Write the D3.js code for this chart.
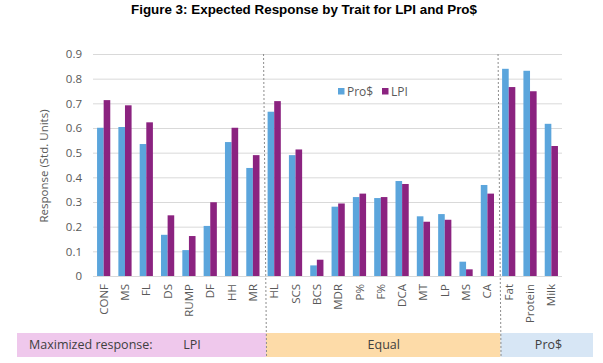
<!DOCTYPE html>
<html>
<head>
<meta charset="utf-8">
<script src="https://cdn.jsdelivr.net/npm/d3@7"></script>
<style>
  body { margin: 0; background: #fff; }
  text { font-family: 'Open Sans', 'Noto Sans', sans-serif; }
</style>
</head>
<body>
<div id="chart"></div>
<script>
'use strict';

var w = 603;
var h = 363;

// categories, in drawing order
var traits = [ 'CONF', 'MS', 'FL', 'DS', 'RUMP', 'DF', 'HH', 'MR',
	'HL', 'SCS', 'BCS', 'MDR', 'P%', 'F%', 'DCA', 'MT', 'LP', 'MS', 'CA',
	'Fat', 'Protein', 'Milk' ];

// series values
var pros = [ 0.601, 0.604, 0.535, 0.167, 0.105, 0.203, 0.543, 0.438,
	0.666, 0.490, 0.043, 0.281, 0.320, 0.316, 0.385, 0.242, 0.251, 0.058, 0.369,
	0.840, 0.832, 0.617 ];
var lpi = [ 0.713, 0.692, 0.623, 0.246, 0.162, 0.299, 0.601, 0.490,
	0.709, 0.513, 0.066, 0.294, 0.334, 0.320, 0.373, 0.220, 0.228, 0.027, 0.334,
	0.766, 0.749, 0.527 ];

var seriesNames = [ 'Pro$', 'LPI' ];
var yTicks = [ 0, 0.1, 0.2, 0.3, 0.4, 0.5, 0.6, 0.7, 0.8, 0.9 ];

// groups shown in the band under the chart
var groupNames = [ 'LPI', 'Equal', 'Pro$' ];
var groupSizes = [ 8, 11, 3 ];

var colours = { 'Pro$': '#5ba5dc', 'LPI': '#8b2380' };
var bandFills = [ '#efc8ec', '#fddba8', '#d7e6f5' ];

var svg = d3.select('#chart')
	.append('svg')
	.attr('width', w)
	.attr('height', h);

svg.append('rect')
	.attr('width', w)
	.attr('height', h)
	.attr('fill', '#fff');

// title
svg.append('text')
	.attr('x', 304)
	.attr('y', 14)
	.attr('text-anchor', 'middle')
	.style('font-family', "'Liberation Sans', Arial, sans-serif")
	.style('font-weight', 'bold')
	.style('font-size', '13.4px')
	.attr('fill', '#000')
	.text('Figure 3: Expected Response by Trait for LPI and Pro$');

var x = d3.scaleBand()
	.domain(d3.range(traits.length))
	.range([ 93, 562 ])
	.paddingInner(0.38)
	.paddingOuter(0.19);

var xs = d3.scaleBand()
	.domain(seriesNames)
	.range([ 0, x.bandwidth() ]);

var y = d3.scaleLinear()
	.domain([ 0, 0.9 ])
	.range([ 276, 54 ]);

// gridlines + y labels
var yAxis = d3.axisLeft(y)
	.tickValues(yTicks)
	.tickSize(-(562 - 93))
	.tickPadding(11)
	.tickFormat(function(d) { return d === 0 ? '0' : d3.format('.1f')(d); });

var gy = svg.append('g')
	.attr('transform', 'translate(93,0)')
	.call(yAxis);
gy.select('.domain').remove();
gy.selectAll('.tick line').attr('stroke', '#d9d9d9');
gy.selectAll('.tick text')
	.attr('fill', '#595959')
	.style('font-size', '11.5px');

svg.append('text')
	.attr('transform', 'translate(44,166) rotate(-90)')
	.attr('text-anchor', 'middle')
	.attr('dy', '0.35em')
	.attr('fill', '#595959')
	.style('font-size', '11.5px')
	.text('Response (Std. Units)');

// bars
var rows = traits.map(function(t, i) {
	return { i: i, vals: [ pros[i], lpi[i] ] };
});

var groups = svg.append('g')
	.selectAll('g')
	.data(rows)
	.enter()
	.append('g')
	.attr('transform', function(d) { return 'translate(' + x(d.i) + ',0)'; });

groups.selectAll('rect')
	.data(function(d) {
		return seriesNames.map(function(s, k) { return { s: s, v: d.vals[k] }; });
	})
	.enter()
	.append('rect')
	.attr('x', function(d) { return xs(d.s); })
	.attr('width', xs.bandwidth())
	.attr('y', function(d) { return y(d.v); })
	.attr('height', function(d) { return y(0) - y(d.v); })
	.attr('fill', function(d) { return colours[d.s]; });

// x axis
var xAxis = d3.axisBottom(x)
	.tickSize(0)
	.tickFormat(function(i) { return traits[i]; });

var gx = svg.append('g')
	.attr('transform', 'translate(0,276)')
	.call(xAxis);
gx.select('.domain')
	.attr('d', 'M93,0.5H562')
	.attr('stroke', '#d9d9d9');
gx.selectAll('.tick text')
	.attr('transform', 'rotate(-90)')
	.attr('text-anchor', 'end')
	.attr('x', -8)
	.attr('y', 0)
	.attr('dy', '0.35em')
	.attr('fill', '#595959')
	.style('font-size', '11.5px');

// group band at the bottom
var starts = [ 0 ];
groupSizes.forEach(function(n, k) { starts.push(starts[k] + n); });

var edge = function(k) {
	if (k === 0) { return 17; }
	if (k === groupSizes.length) { return 593; }
	return x.step() * starts[k] + x.range()[0];
};

var bands = svg.append('g')
	.selectAll('g')
	.data(groupNames)
	.enter()
	.append('g');

bands.append('rect')
	.attr('x', function(d, k) { return edge(k) + (k ? 2.5 : 0); })
	.attr('y', 333)
	.attr('width', function(d, k) {
		return edge(k + 1) + (k + 1 < groupNames.length ? 2.5 : 0) - edge(k) - (k ? 2.5 : 0);
	})
	.attr('height', 24)
	.attr('fill', function(d, k) { return bandFills[k]; });

bands.append('text')
	.attr('x', function(d, k) {
		if (k === 0) { return 192; }
		return (edge(k) + edge(k + 1)) / 2 + 3;
	})
	.attr('y', 345)
	.attr('dy', '0.35em')
	.attr('text-anchor', 'middle')
	.attr('fill', '#404040')
	.style('font-size', '12.5px')
	.text(function(d) { return d; });

svg.append('text')
	.attr('x', 29)
	.attr('y', 345)
	.attr('dy', '0.35em')
	.attr('fill', '#404040')
	.style('font-size', '12.5px')
	.text('Maximized response:');

// dotted dividers (slightly slanted, as drawn)
[ 1, 2 ].forEach(function(k) {
	svg.append('line')
		.attr('x1', edge(k))
		.attr('x2', edge(k) + 3)
		.attr('y1', 54)
		.attr('y2', 357)
		.attr('stroke', '#8c8c8c')
		.attr('stroke-width', 1)
		.attr('stroke-dasharray', '2,2');
});

// legend
var legend = svg.append('g')
	.attr('transform', 'translate(338,88)');

var items = legend.selectAll('g')
	.data(seriesNames)
	.enter()
	.append('g')
	.attr('transform', function(d, k) { return 'translate(' + (k * 44) + ',0)'; });

items.append('rect')
	.attr('width', 6.5)
	.attr('height', 6.5)
	.attr('fill', function(d) { return colours[d]; });

items.append('text')
	.attr('x', 9)
	.attr('y', 3.5)
	.attr('dy', '0.35em')
	.attr('fill', '#595959')
	.style('font-size', '12px')
	.text(function(d) { return d; });
</script>
</body>
</html>
